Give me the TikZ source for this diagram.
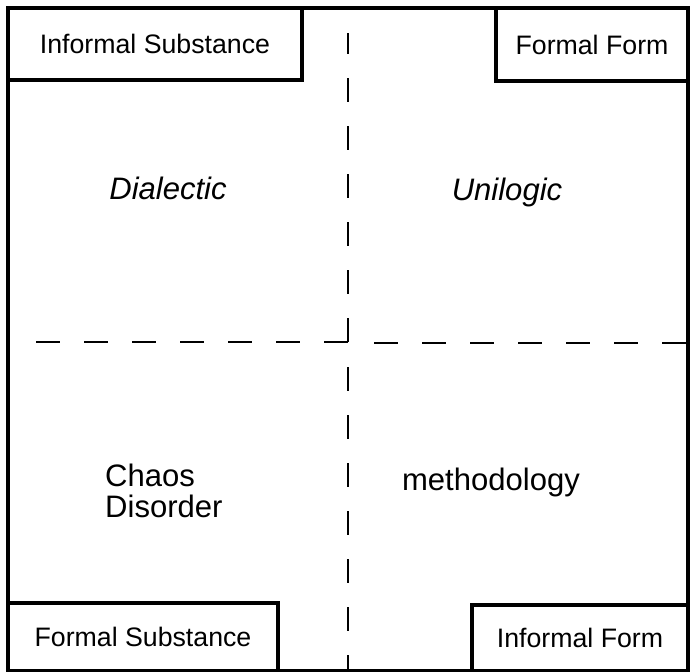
\documentclass[tikz,border=0pt]{standalone}
\usepackage{fontspec}
\setmainfont{Liberation Sans}
\begin{document}
\begin{tikzpicture}[x=0.03cm, y=-0.03cm]
    % Define styles
    \tikzset{
        frame/.style={draw, line width=2.8pt},
        cornerbox/.style={draw, line width=2.8pt, inner sep=0pt, align=center, font=\fontsize{22.8}{27}\selectfont},
        quadrant/.style={inner sep=0pt, font=\fontsize{26.5}{26}\selectfont},
        divider/.style={draw, line width=2.1pt, dash pattern=on 20.5pt off 20.5pt}
    }
    \useasboundingbox (0,0) rectangle (690,672);

    % Outer frame
    \draw[frame] (8,8) rectangle (688,671);

    % Corner boxes
    \node[cornerbox, minimum width=8.82cm, minimum height=2.16cm] (infsub) at (155,44) {Informal Substance};
    \node[cornerbox, minimum width=5.76cm, minimum height=2.19cm] (formform) at (592,44.5) {Formal Form};
    \node[cornerbox, minimum width=8.1cm, minimum height=2.04cm] (formsub) at (143,637) {Formal Substance};
    \node[cornerbox, minimum width=6.48cm, minimum height=1.98cm] (infform) at (580,638) {Informal Form};

    % Dividing lines
    \coordinate (centre) at (348,342);
    \coordinate (top) at (348,33);
    \coordinate (bottom) at (348,671);
    \coordinate (left) at (32,342);
    \coordinate (right) at (688,343);
    \draw[divider] (centre) -- (top);
    \draw[divider] (centre) -- (left);
    \draw[divider] (374,343) -- (right);
    \draw[divider] (348,367) -- (bottom);

    % Quadrant labels
    \node[quadrant, anchor=base, font=\fontsize{26.5}{26}\selectfont\itshape] (dialectic) at (168,199) {Dialectic};
    \node[quadrant, anchor=base, font=\fontsize{26.5}{26}\selectfont\itshape] (unilogic) at (507,200) {Unilogic};
    \node[quadrant, anchor=west, align=left] (chaos) at (105,491) {Chaos\\Disorder};
    \node[quadrant, anchor=base] (method) at (491,490) {methodology};

\end{tikzpicture}
\end{document}
